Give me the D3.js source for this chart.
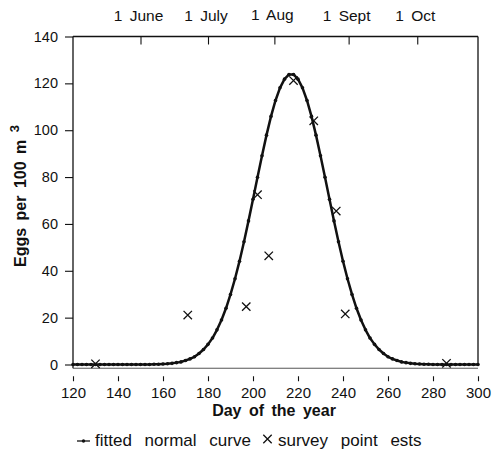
<!DOCTYPE html>
<html>
<head>
<meta charset="utf-8">
<script src="https://cdn.jsdelivr.net/npm/d3@7"></script>
<style>
  html, body { margin: 0; padding: 0; background: #fff; }
  svg { display: block; font-family: "Liberation Sans", Arial, Helvetica, sans-serif; }
</style>
</head>
<body>
<svg id="chart" width="494" height="456"></svg>
<script>
// Fitted normal curve, sampled every 2 days (eggs per 100 m^3)
const curveDays = d3.range(120, 301, 2);
const curveEggs = [
  0, 0, 0, 0, 0, 0, 0, 0, 0, 0,            // 120-138
  0, 0, 0, 0, 0, 0, 0, 0, 0.1, 0.1,        // 140-158
  0.2, 0.3, 0.5, 0.8, 1.1, 1.7, 2.4, 3.3, 4.7, 6.4,      // 160-178
  8.6, 11.3, 14.8, 19.0, 24.0, 29.9, 36.6, 44.1, 52.4, 61.3, // 180-198
  70.5, 79.9, 89.1, 97.9, 105.9, 112.7, 118.1, 121.8, 123.8, 123.8, // 200-218
  121.8, 118.1, 112.7, 105.9, 97.9, 89.1, 79.9, 70.5, 61.3, 52.4,   // 220-238
  44.1, 36.6, 29.9, 24.0, 19.0, 14.8, 11.3, 8.6, 6.4, 4.7,          // 240-258
  3.3, 2.4, 1.7, 1.1, 0.8, 0.5, 0.3, 0.2, 0.1, 0.1,                 // 260-278
  0, 0, 0, 0, 0, 0, 0, 0, 0, 0, 0                                    // 280-300
];

// Survey point estimates
const surveyDays = [130, 171, 197, 202, 207, 218, 227, 237, 241, 286];
const surveyEggs = [0.3, 21.1, 24.7, 72.5, 46.4, 121.2, 104, 65.5, 21.6, 0.5];

// Axis ticks and labels
const xTicks = [120, 140, 160, 180, 200, 220, 240, 260, 280, 300];
const yTicks = [0, 20, 40, 60, 80, 100, 120, 140];
const monthDays = [150, 180, 209.5, 242.5, 273];
const monthLabels = ["1 June", "1 July", "1 Aug", "1 Sept", "1 Oct"];

const svg = d3.select("#chart");
const x = d3.scaleLinear().domain([120, 300]).range([73, 478]);
const y = d3.scaleLinear().domain([0, 140]).range([364.5, 36.5]);
const yBottom = -1.6;

const ink = "#111";

// Frame: left, top, right and bottom edges
const frame = svg.append("g").attr("stroke", ink).attr("fill", "none");
frame.append("line").attr("x1", x(120)).attr("x2", x(120)).attr("y1", y(140)).attr("y2", y(yBottom)).attr("stroke-width", 1.3);
frame.append("line").attr("x1", x(120)).attr("x2", x(300)).attr("y1", y(140)).attr("y2", y(140)).attr("stroke-width", 1.3);
frame.append("line").attr("x1", x(300)).attr("x2", x(300)).attr("y1", y(140)).attr("y2", y(0)).attr("stroke-width", 1.3);
frame.append("line").attr("x1", x(120)).attr("x2", x(300)).attr("y1", y(yBottom)).attr("y2", y(yBottom)).attr("stroke-width", 1).attr("stroke", "#555");

// Left axis
const yAxis = d3.axisLeft(y).tickValues(yTicks).tickSize(8).tickPadding(7).tickFormat(d3.format("d"));
const gy = svg.append("g").attr("transform", `translate(${x(120)},0)`).call(yAxis);
gy.select(".domain").remove();
gy.selectAll(".tick line").attr("stroke", ink).attr("stroke-width", 1.1);
gy.selectAll(".tick text").attr("font-size", 14.5).attr("fill", ink).attr("font-family", null);

// Bottom axis: ticks sit slightly below the frame
const xAxis = d3.axisBottom(x).tickValues(xTicks).tickSize(5).tickPadding(6).tickFormat(d3.format("d"));
const gx = svg.append("g").attr("transform", `translate(0,${y(yBottom) + 8})`).call(xAxis);
gx.select(".domain").remove();
gx.selectAll(".tick line").attr("stroke", ink).attr("stroke-width", 1.1);
gx.selectAll(".tick text").attr("font-size", 15).attr("fill", ink).attr("font-family", null);

// Top axis with month markers
const topAxis = d3.axisBottom(x).tickValues(monthDays).tickSize(8).tickFormat("");
const gt = svg.append("g").attr("transform", `translate(0,${y(140)})`).call(topAxis);
gt.select(".domain").remove();
gt.selectAll(".tick line").attr("stroke", ink).attr("stroke-width", 1.1);

svg.append("g").selectAll("text").data(monthLabels).join("text")
  .attr("x", (d, i) => x(monthDays[i]) - 2)
  .attr("y", (d, i) => d === "1 Aug" ? 20 : 21)
  .attr("text-anchor", "middle")
  .attr("font-size", 15.5)
  .attr("word-spacing", 3)
  .attr("fill", ink)
  .text(d => d);

// Axis titles
svg.append("text")
  .attr("x", 274).attr("y", 416)
  .attr("text-anchor", "middle")
  .attr("font-size", 16).attr("font-weight", "bold")
  .attr("word-spacing", 3)
  .attr("fill", ink)
  .text("Day of the year");

const yTitle = svg.append("text")
  .attr("transform", "translate(26,196) rotate(-90)")
  .attr("text-anchor", "middle")
  .attr("font-size", 16).attr("font-weight", "bold")
  .attr("word-spacing", 3)
  .attr("fill", ink);
yTitle.append("tspan").text("Eggs per 100 m ");
yTitle.append("tspan").attr("dy", -7).attr("font-size", 13).text("3");

// Fitted normal curve: thick line with a bead at each sample
const curveData = curveDays.map((d, i) => [d, curveEggs[i]]);
const line = d3.line().x(d => x(d[0])).y(d => y(d[1]));
svg.append("path").datum(curveData)
  .attr("d", line).attr("fill", "none")
  .attr("stroke", ink).attr("stroke-width", 2.5).attr("stroke-linejoin", "round");
svg.append("g").selectAll("circle").data(curveData).join("circle")
  .attr("cx", d => x(d[0])).attr("cy", d => y(d[1]))
  .attr("r", 1.8).attr("fill", ink);

// Survey point estimates drawn as crosses
const cross = 4.2;
const crossPath = (cx, cy) => `M${cx - cross},${cy - cross}L${cx + cross},${cy + cross}M${cx - cross},${cy + cross}L${cx + cross},${cy - cross}`;
svg.append("g").selectAll("path").data(surveyDays.map((d, i) => [d, surveyEggs[i]])).join("path")
  .attr("d", d => crossPath(x(d[0]), y(d[1])))
  .attr("stroke", ink).attr("stroke-width", 1.3).attr("fill", "none");

// Legend
const leg = svg.append("g");
const ly = 441;
leg.append("line").attr("x1", 77).attr("x2", 90).attr("y1", ly).attr("y2", ly)
  .attr("stroke", ink).attr("stroke-width", 1.3);
leg.append("circle").attr("cx", 83.5).attr("cy", ly).attr("r", 1.7).attr("fill", ink);
leg.append("text").attr("x", 95).attr("y", 446)
  .attr("font-size", 17).attr("word-spacing", 8).attr("fill", ink)
  .text("fitted normal curve");
leg.append("path").attr("d", crossPath(267.5, 439))
  .attr("stroke", ink).attr("stroke-width", 1.3).attr("fill", "none");
leg.append("text").attr("x", 278).attr("y", 446)
  .attr("font-size", 17).attr("word-spacing", 8).attr("fill", ink)
  .text("survey point ests");
</script>
</body>
</html>
